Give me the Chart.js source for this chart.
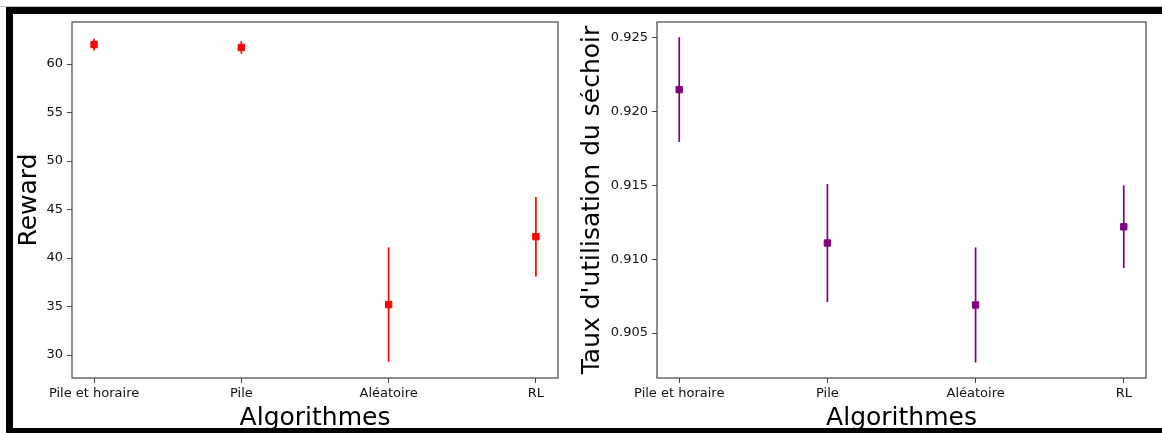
<!DOCTYPE html>
<html>
<head>
<meta charset="utf-8">
<script src="https://cdn.jsdelivr.net/npm/chart.js@4/dist/chart.umd.min.js"></script>
<style>
  body { margin: 0; background: #fff; width: 1162px; height: 433px; overflow: hidden; position: relative; }
  .bar { position: absolute; background: #000; }
  .wrap { position: absolute; top: 14px; height: 414px; }
</style>
</head>
<body>
<div style="position:absolute;left:0;top:6px;width:1162px;height:1px;background:#bbb"></div>
<div class="bar" style="left:6px;top:7px;width:1156px;height:7px"></div>
<div class="bar" style="left:6px;top:7px;width:7px;height:426px"></div>
<div class="bar" style="left:6px;top:428px;width:1156px;height:5px"></div>

<div class="wrap" style="left:13px;width:567px"><canvas id="reward-chart" width="567" height="414"></canvas></div>
<div class="wrap" style="left:580px;width:582px"><canvas id="dryer-chart" width="582" height="414"></canvas></div>

<script>
// Data
const algorithms = ['Pile et horaire', 'Pile', 'Aléatoire', 'RL'];

const rewardMean = [62.0, 61.7, 35.2, 42.2];
const rewardErr = [0.6, 0.65, 5.9, 4.1];
const rewardTicks = [30, 35, 40, 45, 50, 55, 60];

const dryerMean = [0.9215, 0.9111, 0.9069, 0.9122];
const dryerErr = [0.00355, 0.0040, 0.0039, 0.0028];
const dryerTicks = [0.905, 0.910, 0.915, 0.920, 0.925];

const FONT = 'DejaVu Sans';

// plain box around the plot area, like matplotlib spines
const frame = {
    id: 'frame',
    afterDraw(chart) {
        const { ctx, chartArea: a } = chart;
        ctx.save();
        ctx.strokeStyle = '#444';
        ctx.lineWidth = 1.2;
        ctx.strokeRect(a.left, a.top, a.right - a.left, a.bottom - a.top);
        ctx.restore();
    }
};

function makeChart(id, opts) {
    const datasets = [{
        type: 'scatter',
        data: opts.mean.map((m, i) => ({ x: i, y: m })),
        pointStyle: 'rect',
        pointRadius: 4.5,
        borderWidth: 1,
        borderColor: opts.color,
        backgroundColor: opts.color
    }];
    // one vertical segment per category for the error bars
    opts.mean.forEach((m, i) => {
        datasets.push({
            type: 'line',
            data: [{ x: i, y: m - opts.err[i] }, { x: i, y: m + opts.err[i] }],
            borderColor: opts.color,
            borderWidth: 1.7,
            pointRadius: 0
        });
    });

    const tickGrid = { drawOnChartArea: false, drawTicks: true, tickLength: 5, tickColor: '#444', tickWidth: 1 };

    return new Chart(document.getElementById(id).getContext('2d'), {
        data: { datasets },
        plugins: [frame],
        options: {
            responsive: false,
            animation: false,
            layout: { padding: { top: 8, right: opts.padRight, left: 0, bottom: 0 } },
            plugins: { legend: { display: false }, tooltip: { enabled: false } },
            scales: {
                x: {
                    type: 'linear',
                    min: -0.15,
                    max: 3.15,
                    grid: tickGrid,
                    border: { display: false },
                    afterBuildTicks: s => { s.ticks = algorithms.map((_, i) => ({ value: i })); },
                    afterFit: s => { s.height = 50; s.paddingLeft = 0; s.paddingRight = 0; },
                    ticks: {
                        padding: 3,
                        maxRotation: 0,
                        autoSkip: false,
                        color: '#111',
                        font: { family: FONT, size: 13 },
                        callback: v => algorithms[v]
                    },
                    title: {
                        display: true,
                        text: 'Algorithmes',
                        color: '#000',
                        padding: { top: 0, bottom: -3 },
                        font: { family: FONT, size: 25, lineHeight: 1 }
                    }
                },
                y: {
                    type: 'linear',
                    min: opts.yMin,
                    max: opts.yMax,
                    grid: tickGrid,
                    border: { display: false },
                    afterBuildTicks: s => { s.ticks = opts.ticks.map(v => ({ value: v })); },
                    afterFit: s => { s.width = opts.yWidth; s.paddingTop = 0; s.paddingBottom = 0; },
                    ticks: {
                        padding: 4,
                        color: '#111',
                        font: { family: FONT, size: 13 },
                        callback: opts.fmt
                    },
                    title: {
                        display: true,
                        text: opts.yTitle,
                        color: '#000',
                        padding: { top: opts.titlePad, bottom: 0 },
                        font: { family: FONT, size: 25, lineHeight: 1 }
                    }
                }
            }
        }
    });
}

makeChart('reward-chart', {
    mean: rewardMean, err: rewardErr, ticks: rewardTicks,
    color: '#ff0000', yMin: 27.63, yMax: 64.33,
    yTitle: 'Reward', yWidth: 59, padRight: 22, titlePad: 4,
    fmt: v => String(v)
});

makeChart('dryer-chart', {
    mean: dryerMean, err: dryerErr, ticks: dryerTicks,
    color: '#800080', yMin: 0.90195, yMax: 0.92608,
    yTitle: "Taux d'utilisation du séchoir", yWidth: 77, padRight: 16, titlePad: 0,
    fmt: v => v.toFixed(3)
});
</script>
</body>
</html>
